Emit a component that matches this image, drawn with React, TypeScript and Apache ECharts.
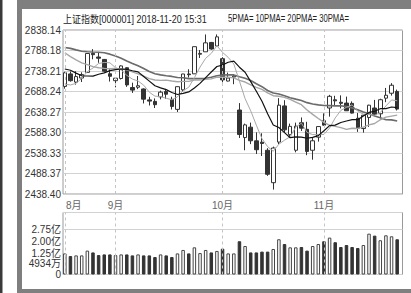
import React, { useEffect, useRef } from 'react';
import * as echarts from 'echarts';

const DATES = [
  '2018-08-21','2018-08-22','2018-08-23','2018-08-24','2018-08-27','2018-08-28','2018-08-29','2018-08-30','2018-08-31',
  '2018-09-03','2018-09-04','2018-09-05','2018-09-06','2018-09-07','2018-09-10','2018-09-11','2018-09-12','2018-09-13','2018-09-14',
  '2018-09-17','2018-09-18','2018-09-19','2018-09-20','2018-09-21','2018-09-25','2018-09-26','2018-09-27','2018-09-28',
  '2018-10-08','2018-10-09','2018-10-10','2018-10-11','2018-10-12','2018-10-15','2018-10-16','2018-10-17','2018-10-18','2018-10-19',
  '2018-10-22','2018-10-23','2018-10-24','2018-10-25','2018-10-26','2018-10-29','2018-10-30','2018-10-31',
  '2018-11-01','2018-11-02','2018-11-05','2018-11-06','2018-11-07','2018-11-08','2018-11-09','2018-11-12','2018-11-13','2018-11-14',
  '2018-11-15','2018-11-16','2018-11-19','2018-11-20',
];

const OPEN = [
  2700.6, 2731.1, 2711.1, 2721.1, 2734.9, 2781.3, 2772.3, 2766.4, 2731.5,
  2714.6, 2720.0, 2746.1, 2698.0, 2698.6, 2694.4, 2667.8, 2664.2, 2675.2, 2688.2,
  2669.1, 2644.7, 2692.2, 2731.0, 2731.3, 2779.0, 2785.0, 2807.8, 2799.1,
  2768.2, 2713.7, 2723.4, 2643.1, 2576.0, 2601.3, 2568.0, 2564.7, 2545.0, 2466.0,
  2565.0, 2653.1, 2583.0, 2545.0, 2612.0, 2596.0, 2545.0, 2577.0,
  2617.0, 2648.0, 2668.0, 2662.0, 2660.0, 2659.3, 2623.0, 2597.9, 2625.0, 2648.0,
  2634.0, 2672.0, 2684.0, 2688.4,
];

const CLOSE = [
  2733.9, 2714.6, 2724.6, 2729.4, 2780.9, 2778.0, 2769.3, 2737.7, 2725.3,
  2720.7, 2750.6, 2704.3, 2691.6, 2702.3, 2669.5, 2664.8, 2656.1, 2686.6, 2681.6,
  2651.8, 2700.0, 2730.9, 2729.2, 2797.5, 2781.1, 2806.8, 2791.8, 2821.4,
  2716.5, 2721.0, 2725.8, 2583.5, 2606.9, 2568.1, 2546.3, 2561.6, 2486.4, 2550.5,
  2654.9, 2594.8, 2603.3, 2603.8, 2598.9, 2542.1, 2568.1, 2602.8,
  2606.2, 2676.5, 2665.4, 2659.4, 2641.3, 2635.6, 2598.9, 2630.5, 2654.9, 2632.2,
  2668.2, 2679.1, 2703.5, 2645.4,
];

const LOW = [
  2695.1, 2712.2, 2705.0, 2711.3, 2734.9, 2766.7, 2758.3, 2736.3, 2712.5,
  2698.4, 2717.5, 2699.6, 2684.8, 2694.0, 2659.1, 2654.1, 2648.0, 2669.1, 2670.3,
  2644.3, 2638.3, 2687.3, 2722.4, 2731.3, 2770.0, 2785.0, 2790.0, 2797.0,
  2710.5, 2712.9, 2706.0, 2575.0, 2545.0, 2560.0, 2536.0, 2531.0, 2482.6, 2449.2,
  2560.0, 2587.5, 2575.0, 2540.0, 2592.1, 2533.0, 2522.0, 2566.1,
  2604.8, 2627.0, 2654.0, 2647.1, 2641.3, 2634.7, 2589.8, 2588.0, 2601.9, 2628.7,
  2622.5, 2662.2, 2678.2, 2642.0,
];

const HIGH = [
  2736.4, 2737.0, 2737.6, 2734.9, 2780.9, 2791.5, 2783.1, 2767.4, 2742.5,
  2722.6, 2752.0, 2747.3, 2709.7, 2726.0, 2695.9, 2675.2, 2671.4, 2690.3, 2694.6,
  2675.5, 2700.7, 2731.1, 2742.5, 2797.5, 2789.2, 2827.3, 2809.0, 2827.3,
  2771.9, 2734.3, 2727.9, 2660.0, 2610.0, 2612.4, 2588.7, 2586.4, 2550.0, 2553.8,
  2672.0, 2667.0, 2610.0, 2612.4, 2625.0, 2614.4, 2574.7, 2604.0,
  2635.0, 2680.0, 2677.8, 2678.8, 2675.8, 2664.1, 2636.0, 2631.4, 2655.8, 2667.8,
  2670.6, 2696.9, 2708.6, 2692.9,
];

// volume in 亿
const VOLUME = [
  1.28, 1.12, 1.16, 1.16, 1.45, 1.34, 1.18, 1.22, 1.22,
  1.18, 1.22, 1.22, 1.16, 1.22, 1.16, 1.16, 1.06, 1.22, 1.16,
  1.06, 1.28, 1.49, 1.28, 1.65, 1.30, 1.49, 1.34, 1.43,
  1.57, 1.28, 1.28, 2.02, 1.73, 1.34, 1.34, 1.39, 1.39, 1.55,
  2.14, 1.85, 1.65, 1.65, 1.67, 1.45, 1.73, 1.85,
  2.02, 2.24, 1.96, 1.67, 1.79, 1.67, 1.61, 1.79, 2.48, 2.36,
  2.08, 2.38, 2.32, 2.14,
];

const MA5 = [
  2706.0, 2704.2, 2708.1, 2720.2, 2736.7, 2745.5, 2756.5, 2759.1, 2758.2,
  2746.2, 2740.7, 2727.7, 2718.5, 2713.9, 2703.7, 2686.5, 2676.9, 2675.9, 2671.7,
  2668.2, 2675.2, 2690.2, 2698.7, 2721.9, 2747.7, 2769.1, 2781.3, 2799.7,
  2783.5, 2771.5, 2755.3, 2713.6, 2670.8, 2641.1, 2606.1, 2573.3, 2553.9, 2542.6,
  2559.9, 2569.6, 2578.0, 2601.5, 2611.1, 2588.6, 2583.2, 2583.1,
  2583.6, 2599.1, 2623.8, 2642.1, 2649.8, 2655.7, 2640.1, 2633.1, 2632.3, 2630.4,
  2636.9, 2653.0, 2667.6, 2665.7,
];

const MA10 = [
  2743.0, 2740.1, 2733.1, 2726.5, 2726.0, 2725.7, 2730.3, 2733.6, 2739.2,
  2741.4, 2743.1, 2742.1, 2738.8, 2736.1, 2724.9, 2713.6, 2702.3, 2697.2, 2692.8,
  2685.9, 2680.9, 2683.5, 2687.3, 2696.8, 2708.0, 2722.2, 2735.7, 2749.2,
  2752.7, 2759.6, 2762.2, 2747.5, 2735.2, 2712.3, 2688.8, 2664.3, 2633.8, 2606.7,
  2600.5, 2587.9, 2575.6, 2577.7, 2576.9, 2574.3, 2576.4, 2580.6,
  2592.5, 2605.1, 2606.2, 2612.6, 2616.4, 2619.6, 2619.6, 2628.5, 2637.2, 2640.1,
  2646.3, 2646.6, 2650.4, 2649.0,
];

const MA20 = [
  2782.6, 2773.2, 2765.3, 2758.1, 2753.7, 2748.8, 2746.0, 2744.5, 2743.7,
  2744.5, 2743.1, 2741.1, 2736.0, 2731.3, 2725.5, 2719.7, 2716.3, 2715.4, 2716.0,
  2713.7, 2712.0, 2712.8, 2713.0, 2716.4, 2716.4, 2717.9, 2719.0, 2723.2,
  2722.8, 2722.8, 2721.5, 2715.5, 2711.3, 2704.5, 2698.4, 2693.2, 2684.7, 2677.9,
  2676.6, 2673.8, 2668.9, 2662.6, 2656.0, 2643.3, 2632.6, 2622.4,
  2613.1, 2605.9, 2603.3, 2600.3, 2596.0, 2598.7, 2598.2, 2601.4, 2606.8, 2610.3,
  2619.4, 2625.8, 2628.3, 2630.8,
];

const MA30 = [
  2795.5, 2793.4, 2789.7, 2786.3, 2785.2, 2784.5, 2783.9, 2782.7, 2779.3,
  2774.6, 2769.5, 2762.8, 2756.5, 2750.8, 2744.1, 2737.1, 2731.4, 2728.7, 2726.8,
  2725.0, 2722.3, 2721.9, 2719.7, 2719.8, 2719.6, 2720.5, 2722.8, 2726.7,
  2728.2, 2729.0, 2728.7, 2724.4, 2720.4, 2715.1, 2707.2, 2700.0, 2690.6, 2684.4,
  2682.0, 2677.8, 2672.9, 2669.6, 2666.5, 2661.1, 2657.7, 2655.7,
  2654.0, 2653.7, 2653.1, 2653.4, 2651.4, 2648.3, 2643.9, 2638.3, 2634.1, 2628.3,
  2624.2, 2619.5, 2619.0, 2616.5,
];

const PRICE_MIN = 2438.40;
const PRICE_MAX = 2838.14;
const PRICE_TICKS = ['2438.40', '2488.37', '2538.33', '2588.30', '2638.27', '2688.24', '2738.21', '2788.18', '2838.14'];

const VOL_MAX = 3.765;
// two label sets (split so that neighbouring labels sit on different axes)
const VOL_TICKS_A = [0, 1.25, 2.75];
const VOL_LABELS_A = ['0', '1.25亿', '2.75亿'];
const VOL_TICKS_B = [0.4934, 2.0];
const VOL_LABELS_B = ['4934万', '2.00亿'];

const MONTH_STARTS = ['2018-08-21', '2018-09-03', '2018-10-08', '2018-11-01'];
const MONTH_LABELS = ['8月', '9月', '10月', '11月'];

const TITLE = '上证指数[000001] 2018-11-20 15:31';
const LEGEND_TEXT = '5PMA= 10PMA= 20PMA= 30PMA=';

const FONT = "'Liberation Sans', 'Noto Sans CJK SC', sans-serif";

export default function App() {
  const ref = useRef<HTMLDivElement>(null);

  useEffect(() => {
    if (!ref.current) return;
    const chart = echarts.init(ref.current, undefined, { renderer: 'svg' });
    const priceInterval = (PRICE_MAX - PRICE_MIN) / 8;

    const candleData = DATES.map((_, i) => [OPEN[i], CLOSE[i], LOW[i], HIGH[i]]);
    const volData = VOLUME.map((v, i) => ({
      value: v,
      itemStyle: CLOSE[i] >= OPEN[i]
        ? { color: '#ffffff', borderColor: '#444', borderWidth: 1 }
        : { color: '#333333', borderColor: '#333', borderWidth: 1 },
    }));

    const monthMarkLine = {
      silent: true,
      symbol: ['none', 'none'],
      label: { show: false },
      lineStyle: { color: '#c4c4c4', type: [3, 3] as any, width: 1 },
      data: MONTH_STARTS.map((d) => ({ xAxis: d })),
    };

    const volLabelAxis = (ticks: number[], labels: string[], withSplit: boolean) => ({
      type: 'value', gridIndex: 2, min: 0, max: VOL_MAX, interval: 2.75, position: 'left', offset: 0,
      axisLine: { show: false }, axisTick: { show: false },
      splitLine: { show: withSplit, lineStyle: { color: '#d2d2d2', width: 1 } },
      axisLabel: {
        customValues: ticks,
        showMinLabel: true, showMaxLabel: true, hideOverlap: false,
        margin: 2, color: '#333', fontSize: 10, lineHeight: 10, fontFamily: FONT,
        formatter: (v: number) => {
          const k = ticks.findIndex((t) => Math.abs(t - v) < 1e-6);
          if (k < 0) return '';
          if (Math.abs(v - 0.4934) < 1e-6) return `{u|${labels[k]}}`;
          return labels[k];
        },
        rich: { u: { padding: [0, 0, 5, 0], color: '#333', fontSize: 10, lineHeight: 10, fontFamily: FONT } },
      },
    });

    const option: any = {
      animation: false,
      backgroundColor: 'transparent',
      graphic: [
        { type: 'rect', z: -10, shape: { x: 0, y: 0, width: 2.5, height: 293 }, style: { fill: '#3a3a3a' } },
        { type: 'rect', z: -10, shape: { x: 17, y: 0, width: 394, height: 293 }, style: { fill: '#7f7f7f' } },
        { type: 'rect', z: -9, shape: { x: 22, y: 9, width: 389, height: 280 }, style: { fill: '#ffffff' } },
        {
          type: 'text', x: 63, y: 19, scaleX: 0.9,
          style: { text: TITLE, fill: '#222', font: `10px ${FONT}`, verticalAlign: 'middle', align: 'left' },
        },
        {
          type: 'text', x: 228, y: 19, scaleX: 0.77,
          style: { text: LEGEND_TEXT, fill: '#222', font: `10px ${FONT}`, verticalAlign: 'middle', align: 'left' },
        },
      ],
      grid: [
        { left: 63, top: 30, width: 339.5, height: 164, show: true, borderColor: '#9a9a9a', borderWidth: 1, backgroundColor: 'transparent' },
        { left: 62, top: 30, width: 338, height: 164 },
        { left: 63, top: 212.5, width: 339.5, height: 62, show: true, borderColor: '#9a9a9a', borderWidth: 1, backgroundColor: 'transparent' },
        { left: 62, top: 212.5, width: 338, height: 62 },
      ],
      xAxis: [
        { type: 'value', gridIndex: 0, show: false, min: 0, max: 1 },
        {
          type: 'category', gridIndex: 1, data: DATES, boundaryGap: true,
          axisLine: { show: false }, axisTick: { show: false }, splitLine: { show: false },
          axisLabel: {
            interval: (_i: number, v: string) => MONTH_STARTS.includes(v),
            formatter: (v: string) => {
              const k = MONTH_STARTS.indexOf(v);
              if (k < 0) return '';
              if (k === 0) return `{f|${MONTH_LABELS[k]}}`;
              return MONTH_LABELS[k];
            },
            rich: { f: { padding: [0, 0, 0, 18], color: '#666', fontSize: 10, fontFamily: FONT } },
            margin: 6, color: '#666', fontSize: 10, fontFamily: FONT,
          },
        },
        { type: 'value', gridIndex: 2, show: false, min: 0, max: 1 },
        { type: 'category', gridIndex: 3, data: DATES, boundaryGap: true, show: false },
      ],
      yAxis: [
        {
          type: 'value', gridIndex: 0, min: PRICE_MIN, max: PRICE_MAX, interval: priceInterval,
          axisLine: { show: false }, axisTick: { show: false },
          splitLine: { show: true, lineStyle: { color: '#d2d2d2', width: 1 } },
          axisLabel: {
            margin: 2, color: '#333', fontSize: 10, fontFamily: FONT, showMinLabel: true, showMaxLabel: true,
            formatter: (v: number) => PRICE_TICKS[Math.round((v - PRICE_MIN) / priceInterval)] ?? '',
          },
        },
        { type: 'value', gridIndex: 1, min: PRICE_MIN, max: PRICE_MAX, show: false },
        volLabelAxis(VOL_TICKS_A, VOL_LABELS_A, true),
        { type: 'value', gridIndex: 3, min: 0, max: VOL_MAX, show: false },
        volLabelAxis(VOL_TICKS_B, VOL_LABELS_B, false),
      ],
      series: [
        {
          type: 'candlestick', xAxisIndex: 1, yAxisIndex: 1, data: candleData, barWidth: 4,
          itemStyle: { color: '#ffffff', color0: '#333333', borderColor: '#333', borderColor0: '#333', borderWidth: 1 },
          markLine: monthMarkLine,
        },
        { type: 'line', name: '30PMA', xAxisIndex: 1, yAxisIndex: 1, data: MA30, symbol: 'none', lineStyle: { color: '#6a6a6a', width: 1.6 } },
        { type: 'line', name: '20PMA', xAxisIndex: 1, yAxisIndex: 1, data: MA20, symbol: 'none', lineStyle: { color: '#a6a6a6', width: 1.4 } },
        { type: 'line', name: '5PMA', xAxisIndex: 1, yAxisIndex: 1, data: MA5, symbol: 'none', lineStyle: { color: '#a8a8a8', width: 1 } },
        { type: 'line', name: '10PMA', xAxisIndex: 1, yAxisIndex: 1, data: MA10, symbol: 'none', lineStyle: { color: '#111111', width: 1.2 } },
        {
          type: 'bar', xAxisIndex: 3, yAxisIndex: 3, data: volData, barWidth: 3.5,
          markLine: monthMarkLine,
        },
      ],
    };

    chart.setOption(option);
    return () => chart.dispose();
  }, []);

  return (
    <div
      ref={ref}
      style={{ position: 'fixed', left: 0, top: 0, width: 411, height: 293, background: '#fff' }}
    />
  );
}
